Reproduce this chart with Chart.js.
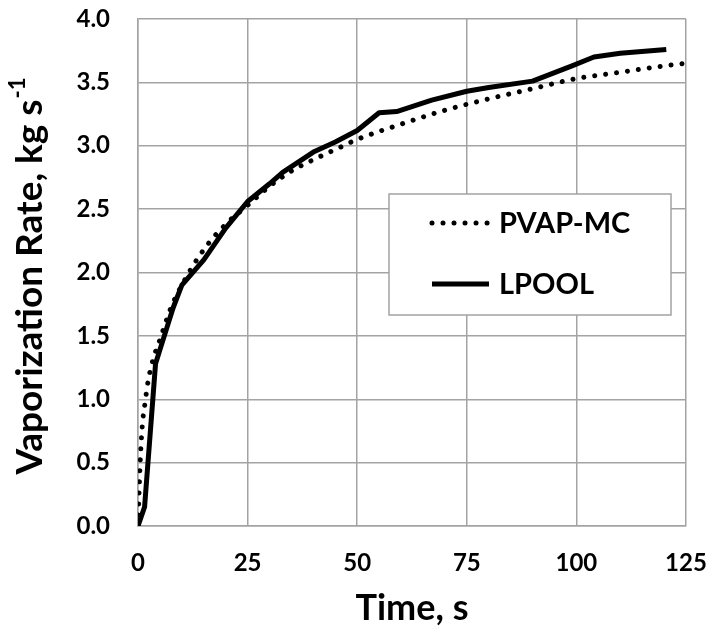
<!DOCTYPE html>
<html>
<head>
<meta charset="utf-8">
<script src="https://cdn.jsdelivr.net/npm/chart.js@4.4.0/dist/chart.umd.min.js"></script>
<style>
    body { margin: 0; background: #fff; }
    #wrap { width: 709px; height: 633px; }
</style>
</head>
<body>
<div id="wrap"><canvas id="rateChart" width="709" height="633"></canvas></div>
<script>
// Dữ liệu: thời gian (s) và tốc độ bay hơi (kg/s)
const pvapTime = [0, 0.5, 1, 1.6, 2.3, 3.4, 5, 7.5, 10, 15, 20, 25, 30, 35, 40, 45, 50, 60, 70, 80, 90, 100, 110, 120, 125];
const pvapRate = [0, 0.5, 0.8, 0.97, 1.14, 1.31, 1.47, 1.72, 1.9, 2.18, 2.38, 2.53, 2.68, 2.8, 2.89, 2.97, 3.05, 3.17, 3.28, 3.37, 3.45, 3.53, 3.58, 3.63, 3.65];

const lpoolTime = [0, 1.5, 4, 6, 8, 10, 15, 20, 25, 30, 33, 40, 45, 50, 55, 59, 67, 75, 80, 90, 99, 104, 110, 120.5];
const lpoolRate = [0, 0.15, 1.28, 1.5, 1.72, 1.9, 2.1, 2.35, 2.56, 2.7, 2.79, 2.95, 3.03, 3.12, 3.26, 3.27, 3.36, 3.43, 3.46, 3.51, 3.63, 3.70, 3.73, 3.76];

const xTicks = [0, 25, 50, 75, 100, 125];
const yMax = 4.0;

const fontFamily = "Lato, 'Open Sans', sans-serif";
const gridColor = "#a3a3a3";

function toPoints(xs, ys) {
    return xs.map((x, i) => ({ x: x, y: ys[i] }));
}

// Tiêu đề trục Y có chỉ số trên (s^-1)
const yTitlePlugin = {
    id: "yTitle",
    afterDraw: function (chart) {
        const ctx = chart.ctx;
        const area = chart.chartArea;
        const main = "Vaporization Rate, kg s";
        const sup = "-1";
        ctx.save();
        ctx.fillStyle = "#000";
        ctx.font = "bold 37px " + fontFamily;
        const w1 = ctx.measureText(main).width;
        ctx.font = "bold 22px " + fontFamily;
        const w2 = ctx.measureText(sup).width;
        const total = w1 + w2;
        ctx.translate(30, (area.top + area.bottom) / 2 + 4);
        ctx.rotate(-Math.PI / 2);
        ctx.textBaseline = "middle";
        ctx.textAlign = "left";
        ctx.font = "bold 37px " + fontFamily;
        ctx.fillText(main, -total / 2, 0);
        ctx.font = "bold 22px " + fontFamily;
        ctx.fillText(sup, -total / 2 + w1 + 1, -12);
        ctx.restore();
    }
};

// Chú thích vẽ bên trong vùng biểu đồ
const boxLegendPlugin = {
    id: "boxLegend",
    afterDatasetsDraw: function (chart) {
        const ctx = chart.ctx;
        const left = 389, top = 194, width = 282, height = 121;
        ctx.save();
        ctx.fillStyle = "#fff";
        ctx.fillRect(left, top, width, height);
        ctx.strokeStyle = gridColor;
        ctx.lineWidth = 1.5;
        ctx.strokeRect(left, top, width, height);

        chart.data.datasets.forEach(function (ds, i) {
            const y = top + 29 + i * 61;
            ctx.strokeStyle = ds.borderColor;
            ctx.lineWidth = ds.borderWidth;
            ctx.lineCap = ds.borderCapStyle || "butt";
            ctx.setLineDash(ds.borderDash || []);
            ctx.beginPath();
            ctx.moveTo(432, y);
            ctx.lineTo(489, y);
            ctx.stroke();
            ctx.setLineDash([]);
            ctx.fillStyle = "#000";
            ctx.font = "bold 29px " + fontFamily;
            ctx.textBaseline = "middle";
            ctx.textAlign = "left";
            ctx.fillText(ds.label, 499, y + 1);
        });
        ctx.restore();
    }
};

const ctx = document.getElementById("rateChart").getContext("2d");
const rateChart = new Chart(ctx, {
    type: "line",
    data: {
        datasets: [
            {
                label: "PVAP-MC",
                data: toPoints(pvapTime, pvapRate),
                borderColor: "#000",
                borderWidth: 5,
                borderDash: [0.01, 11],
                borderCapStyle: "round",
                cubicInterpolationMode: "monotone",
                pointRadius: 0,
                fill: false,
            },
            {
                label: "LPOOL",
                data: toPoints(lpoolTime, lpoolRate),
                borderColor: "#000",
                borderWidth: 5,
                borderJoinStyle: "round",
                tension: 0,
                pointRadius: 0,
                fill: false,
            },
        ],
    },
    options: {
        responsive: false,
        animation: false,
        layout: { padding: { left: 0, top: 19, right: 23, bottom: 0 } },
        plugins: {
            legend: { display: false },
            tooltip: { enabled: false },
        },
        scales: {
            x: {
                type: "linear",
                min: 0,
                max: xTicks[xTicks.length - 1],
                afterBuildTicks: function (scale) {
                    scale.ticks = xTicks.map(v => ({ value: v }));
                },
                afterFit: function (scale) {
                    scale.height = 107;
                    scale.paddingLeft = 0;
                    scale.paddingRight = 0;
                },
                grid: { color: gridColor, lineWidth: 1.5, drawTicks: false },
                border: { color: gridColor, width: 1.5 },
                ticks: {
                    padding: 23,
                    color: "#000",
                    font: { family: fontFamily, size: 24, weight: "bold" },
                },
                title: {
                    display: true,
                    text: "Time, s",
                    color: "#000",
                    font: { family: fontFamily, size: 36, weight: "bold", lineHeight: 1 },
                    padding: { top: 0, bottom: 7 },
                },
            },
            y: {
                min: 0,
                max: yMax,
                afterFit: function (scale) {
                    scale.width = 138;
                    scale.paddingTop = 0;
                    scale.paddingBottom = 0;
                },
                grid: { color: gridColor, lineWidth: 1.5, drawTicks: false },
                border: { color: gridColor, width: 1.5 },
                ticks: {
                    stepSize: 0.5,
                    padding: 28,
                    color: "#000",
                    font: { family: fontFamily, size: 24, weight: "bold" },
                    callback: function (value) {
                        return value.toFixed(1);
                    },
                },
            },
        },
    },
    plugins: [yTitlePlugin, boxLegendPlugin],
});
</script>
</body>
</html>
